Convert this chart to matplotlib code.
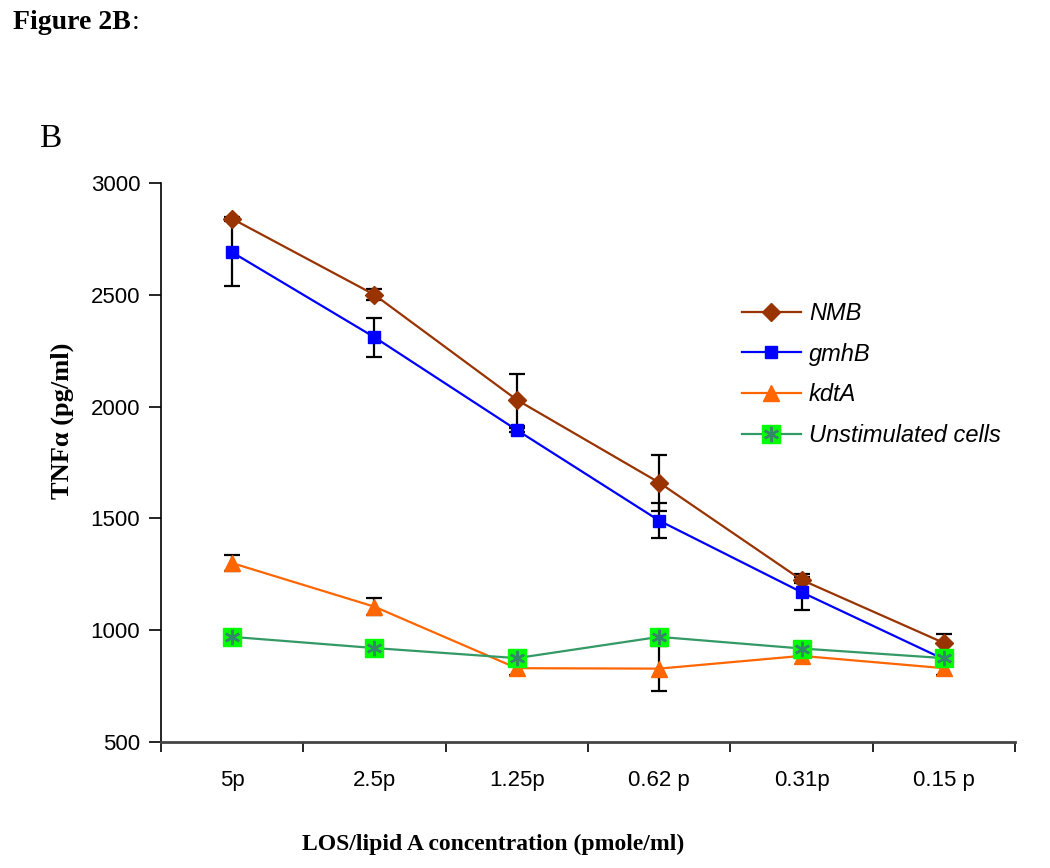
import matplotlib.pyplot as plt

conc = ['5p', '2.5p', '1.25p', '0.62 p', '0.31p', '0.15 p']

nmb = [2840, 2500, 2030, 1660, 1225, 943]
nmb_err = [10, 25, 115, 125, 15, 40]
gmhb = [2690, 2310, 1895, 1490, 1170, 870]
gmhb_err = [150, 87, 10, 78, 80, 10]
kdta = [1300, 1105, 830, 828, 885, 830]
kdta_err = [35, 37, 30, 100, 10, 30]
unstim = [970, 920, 875, 970, 918, 875]
unstim_err = [8, 8, 8, 8, 8, 8]

sans = ['Liberation Sans', 'DejaVu Sans']
serif = ['Liberation Serif', 'DejaVu Serif']

fig = plt.figure(figsize=(10.5, 8.68), dpi=100)
ax = fig.add_axes([0.1533, 0.1452, 0.8134, 0.6440])
x = list(range(len(conc)))

ebkw = dict(fmt='none', ecolor='black', elinewidth=1.6, capsize=6, capthick=1.6, zorder=2)
ax.errorbar(x, nmb, yerr=nmb_err, **ebkw)
ax.errorbar(x, gmhb, yerr=gmhb_err, **ebkw)
ax.errorbar(x, kdta, yerr=kdta_err, **ebkw)
ax.errorbar(x, unstim, yerr=unstim_err, **ebkw)

l1, = ax.plot(x, nmb, color='#993300', lw=1.6, marker='D', ms=9, zorder=3)
l2, = ax.plot(x, gmhb, color='#0000FF', lw=1.6, marker='s', ms=9, zorder=3)
l3, = ax.plot(x, kdta, color='#FF6600', lw=1.6, marker='^', ms=11, zorder=3)
l4, = ax.plot(x, unstim, color='#339966', lw=1.6, marker='s', ms=13,
              mfc='#00FF00', mec='#00FF00', zorder=3)
l4b, = ax.plot(x, unstim, ls='none', marker=(6, 2, 0), ms=11, mew=1.8,
               color='#338866', zorder=4)

ax.set_xlim(-0.5, len(conc) - 0.5)
ax.set_ylim(500, 3000)
ax.set_yticks([500, 1000, 1500, 2000, 2500, 3000])
ax.set_xticks(x)
ax.set_xticklabels(conc, family=sans, fontsize=16)
ax.set_xticks([i - 0.5 for i in range(len(conc) + 1)], minor=True)
ax.tick_params(axis='x', which='major', length=0, pad=20)
ax.tick_params(axis='x', which='minor', length=7, width=1.2, direction='out')
ax.tick_params(axis='y', length=9, width=1.2, direction='out', pad=6)
for lab in ax.get_yticklabels():
    lab.set_family(sans)
    lab.set_fontsize(16)

for side in ['top', 'right']:
    ax.spines[side].set_visible(False)
ax.spines['left'].set_linewidth(1.2)
ax.spines['bottom'].set_linewidth(2)
ax.spines['bottom'].set_color('#444444')

fig.text(0.059, 1 - 421 / 868, 'TNFα (pg/ml)', family=serif, fontweight='bold',
         fontsize=19, rotation=90, ha='center', va='center')
fig.text(0.470, 0.027, 'LOS/lipid A concentration (pmole/ml)', family=serif,
         fontweight='bold', fontsize=17, ha='center', va='center')

fig.text(0.037, 0.84, 'B', family=serif, fontsize=24, va='center')
t = fig.text(0.012, 0.974, 'Figure 2B', family=serif, fontweight='bold', fontsize=20, va='center')
fig.canvas.draw()
bb = t.get_window_extent()
fig.text(bb.x1 / fig.bbox.width + 0.001, 0.974, ':', family=serif, fontsize=20, va='center')

ax.legend([l1, l2, l3, (l4, l4b)], ['NMB', 'gmhB', 'kdtA', 'Unstimulated cells'],
          loc='upper left', bbox_to_anchor=(0.655, 0.825), frameon=False,
          prop={'family': sans, 'style': 'italic', 'size': 17},
          handlelength=2.5, handletextpad=0.35, labelspacing=0.75)

fig.savefig('out.png', dpi=100)
